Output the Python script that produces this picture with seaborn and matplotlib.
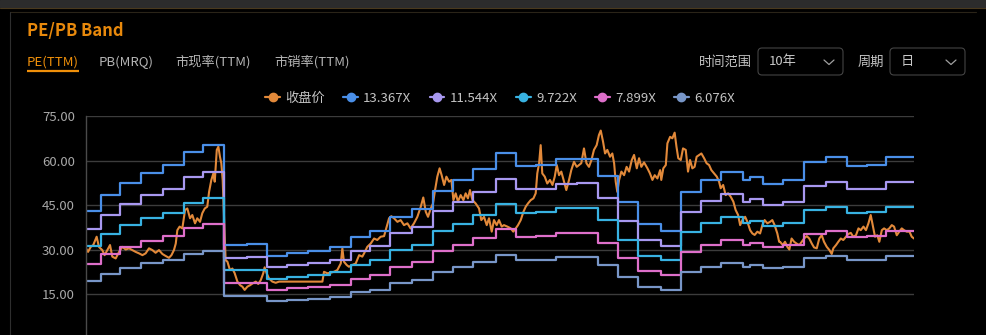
import numpy as np
import pandas as pd
import matplotlib
matplotlib.use("Agg")
import matplotlib.pyplot as plt
import matplotlib.transforms as mtransforms
from matplotlib.patches import FancyBboxPatch, Rectangle
from matplotlib.lines import Line2D
import seaborn as sns

W, H = 986, 335

# ---- data -------------------------------------------------------------
start_date = pd.Timestamp("2014-09-15")
end_day = 3653

# daily close, sampled (days since start_date)
price_day = [
    0, 9, 21, 32, 47, 57, 72, 82, 94, 106, 116, 131, 146, 160, 175, 190, 204, 219,
    234, 249, 263, 278, 293, 307, 322, 337, 352, 366, 377, 388, 396, 403, 413, 425,
    437, 447, 459, 469, 481, 491, 503, 513, 524, 535, 543, 553, 562, 568, 577, 584,
    591, 597, 603,
    616, 624, 635, 646, 656, 668, 680, 690, 700, 712, 724, 735, 749, 760, 771, 782,
    788, 797, 807, 822, 837, 852, 1043, 1050, 1065, 1080, 1094, 1109, 1124, 1131,
    1138, 1150, 1160, 1175, 1190, 1205, 1219,
    1227, 1241, 1256, 1271, 1285, 1300, 1315, 1327, 1337, 1347, 1359, 1374, 1388,
    1403, 1418, 1432, 1447, 1462, 1477, 1488, 1499, 1509, 1521, 1531, 1540, 1550,
    1560, 1569, 1580, 1590, 1602, 1612, 1621, 1631, 1641, 1653, 1665, 1675, 1685,
    1694, 1705, 1719, 1734, 1744, 1756, 1768, 1778, 1790, 1800, 1812, 1822, 1834,
    1844, 1859, 1874, 1885, 1896, 1906, 1918, 1930, 1940, 1950, 1962, 1974, 1984,
    1991, 1999, 2006, 2013, 2024, 2035, 2047, 2058, 2068, 2077, 2087, 2097, 2109,
    2119, 2131, 2141, 2153, 2165, 2175, 2185, 2197, 2208, 2219, 2230, 2241, 2253,
    2263, 2271, 2281, 2290, 2300, 2312, 2322, 2330, 2337, 2344, 2352, 2362, 2374,
    2385, 2396, 2408, 2418, 2430, 2440, 2450,
    2462, 2477, 2488, 2499, 2509, 2521, 2533, 2538, 2547, 2558, 2565, 2577, 2587,
    2597, 2605, 2613, 2624, 2634, 2646, 2656, 2665, 2675, 2685, 2694, 2705, 2715,
    2727, 2738, 2749, 2759, 2771, 2783, 2793, 2800, 2811, 2822, 2833, 2844, 2856,
    2866, 2877, 2886, 2896, 2908, 2918, 2930, 2940, 2950, 2962, 2974, 2984, 2994,
    3006, 3018, 3028, 3038, 3050, 3058,
    3062, 3074, 3084, 3094, 3103, 3113, 3124, 3135, 3147, 3158, 3168, 3180, 3191,
    3202, 3212, 3224, 3235, 3246, 3256, 3268, 3280, 3290, 3297, 3309, 3319, 3330,
    3341, 3353, 3363, 3374, 3385, 3397, 3408, 3418, 3430, 3441, 3452, 3462, 3471,
    3481, 3491, 3500, 3511, 3521, 3533, 3544, 3555, 3565, 3577, 3588, 3599, 3609,
    3621, 3633, 3643, 3653,
]
price_close = [
    30.5, 29.3, 31.0, 31.6, 34.4, 31.0, 29.9, 28.2, 29.9, 31.6, 27.7, 27.1, 29.3, 31.0,
    30.1, 30.5, 29.9, 29.3, 28.8, 28.2, 28.8, 30.5, 29.9, 29.0, 29.9, 28.6, 27.9, 27.3,
    28.2, 29.9, 32.1, 36.6, 37.8, 37.2, 43.4, 43.9, 40.6, 41.7, 38.9, 40.6, 39.4, 42.3,
    43.9, 44.5, 49.5, 53.5, 55.7, 52.9, 63.6, 64.7, 61.3, 59.1, 53.5,
    26.5, 26.0, 23.2, 23.7, 22.1, 19.3, 18.1, 17.6, 16.5, 17.6, 18.1, 18.7, 19.3, 18.5,
    19.8, 22.1, 24.1, 22.1, 20.4, 19.3, 18.9, 19.3, 19.3, 22.6, 22.1, 22.3, 22.6, 23.2,
    25.4, 30.5, 26.0, 24.9, 24.3, 24.9, 25.4, 28.2, 27.7,
    28.8, 31.0, 32.1, 33.8, 33.3, 34.4, 34.6, 37.8, 40.6, 41.3, 40.6, 39.4, 40.0, 38.3,
    38.9, 37.2, 38.9, 41.1, 44.5, 47.6, 42.8, 41.1, 43.9, 45.6, 50.1, 54.6, 57.4, 55.1,
    51.8, 54.6, 52.9, 53.5, 46.7, 49.0, 46.2, 48.4, 46.7, 49.0, 47.3, 50.1, 46.7, 45.6,
    43.9, 40.0, 41.1, 38.3, 40.6, 36.1, 40.0, 38.3, 40.0, 37.8,
    38.3, 37.8, 37.2, 36.1, 37.2, 38.3, 40.0, 42.8, 44.5, 45.6, 46.7, 47.3, 49.0, 55.7,
    59.1, 65.2, 55.7, 54.6, 52.3, 53.5, 51.8, 54.6, 58.5, 55.1, 56.3, 52.9, 50.1, 53.5,
    56.8, 59.6, 57.9, 58.5, 59.1, 64.1, 59.1, 57.9, 60.2, 63.6, 65.2, 68.6, 70.1, 66.4,
    62.4, 63.6, 61.3, 62.4, 59.1, 52.9, 49.5, 53.5, 56.3, 55.1, 57.9, 56.3, 60.2, 61.9,
    57.4, 60.8, 57.9,
    59.4, 57.4, 55.7, 53.5, 55.1, 54.0, 56.8, 53.5, 57.4, 58.5, 65.8, 68.0, 67.5, 69.4,
    64.7, 60.8, 60.2, 64.1, 63.6, 56.3, 60.2, 57.4, 57.9, 61.3, 61.9, 62.4, 60.8, 59.1,
    58.5, 56.8, 55.7, 54.6, 52.9, 50.7, 51.8, 48.4, 49.0, 47.9, 46.2, 43.4, 41.7, 38.3,
    40.0, 41.1, 39.4, 36.6, 35.5, 35.0, 36.1, 35.5, 38.3, 40.0, 38.9, 39.4, 40.0, 38.3,
    35.5, 32.7,
    32.7, 31.6, 32.7, 31.0, 30.1, 33.8, 32.7, 32.1, 31.6, 32.7, 33.8, 34.6, 33.8, 32.1,
    30.8, 30.5, 33.8, 34.9, 32.7, 31.0, 29.9, 28.6, 30.5, 31.6, 32.7, 33.8, 33.3, 34.4,
    35.3, 35.7, 34.4, 34.9, 37.2, 36.6, 37.8, 36.6, 38.9, 41.7, 38.3, 34.4, 34.9, 32.7,
    36.6, 37.2, 36.6, 37.2, 38.3, 37.8, 34.9, 36.1, 37.2, 36.6, 36.1, 36.1, 34.4, 33.8,
]

# trailing EPS, constant from each start day until the next one
eps_start_day = [
    0, 65, 150, 244, 340, 432, 518, 609, 709, 800, 886, 980, 1077, 1168, 1253, 1341,
    1440, 1532, 1621, 1709, 1809, 1896, 1984, 2072, 2166, 2260, 2349, 2437, 2536,
    2624, 2712, 2800, 2900, 2930, 2988, 3077, 3168, 3264, 3356, 3444, 3530,
]
eps_ttm = [
    3.209, 3.621, 3.935, 4.182, 4.376, 4.706, 4.878, 2.372, 2.386, 2.087, 2.155, 2.207,
    2.304, 2.574, 2.716, 3.075, 3.269, 3.733, 3.995, 4.287, 4.668, 4.362, 4.384, 4.519,
    4.534, 4.107, 3.441, 2.888, 2.716, 3.696, 4.010, 4.212, 4.002, 4.070, 3.905, 4.002,
    4.459, 4.578, 4.362, 4.384, 4.578,
]

pe_multiples = [13.367, 11.544, 9.722, 7.899, 6.076]
band_colors = ["#4a8fe8", "#a898f0", "#38b2e2", "#de6fca", "#7896c8"]
price_label = "收盘价"
price_color = "#e2893a"

y_ticks = [0, 15, 30, 45, 60, 75]
tabs = ["PE(TTM)", "PB(MRQ)", "市现率(TTM)", "市销率(TTM)"]
tab_x = [27, 99, 175, 274]

# ---- tables ----------------------------------------------------------------
price_df = pd.DataFrame({
    "date": start_date + pd.to_timedelta(price_day, unit="D"),
    "close": price_close,
})

band_labels = [f"{m:.3f}X" for m in pe_multiples]
step_days = eps_start_day + [end_day]
step_eps = eps_ttm + [eps_ttm[-1]]
band_rows = []
for m, lab in zip(pe_multiples, band_labels):
    for d, e in zip(step_days, step_eps):
        band_rows.append({"date": start_date + pd.Timedelta(days=d),
                          "value": m * e, "band": lab})
band_df = pd.DataFrame(band_rows)

# ---- style -----------------------------------------------------------------
sns.set_theme(style="dark", rc={
    "figure.facecolor": "black",
    "axes.facecolor": "black",
    "savefig.facecolor": "black",
})
plt.rcParams["font.family"] = ["Noto Sans CJK SC", "DejaVu Sans"]

fig = plt.figure(figsize=(W / 100, H / 100), dpi=100)
# pixel coordinates, origin top-left
px = mtransforms.Affine2D().scale(1 / W, -1 / H).translate(0, 1) + fig.transFigure

ax_top, ax_bot = 116, 339
ax = fig.add_axes([86 / W, 1 - ax_bot / H, 828 / W, (ax_bot - ax_top) / H])
ax.set_facecolor("black")

sns.lineplot(data=price_df, x="date", y="close", color=price_color, lw=1.5,
             estimator=None, legend=False, ax=ax)
sns.lineplot(data=band_df, x="date", y="value", hue="band", hue_order=band_labels,
             palette=dict(zip(band_labels, band_colors)), lw=1.6,
             drawstyle="steps-post", estimator=None, legend=False, ax=ax)

ax.set_xlim(start_date, start_date + pd.Timedelta(days=end_day))
ax.set_ylim(0, 75)
ax.set_yticks(y_ticks)
ax.set_yticklabels([f"{v:.2f}" for v in y_ticks])
ax.tick_params(axis="y", length=0, pad=8, labelsize=9.5, labelcolor="#a8a8a8")
ax.tick_params(axis="x", length=0, labelbottom=False)
ax.set_xlabel("")
ax.set_ylabel("")
ax.grid(False)
ax.yaxis.grid(True, color="#3c3c3c", lw=1)
for side in ["top", "right", "bottom"]:
    ax.spines[side].set_visible(False)
ax.spines["left"].set_color("#4a4a4a")
ax.spines["left"].set_linewidth(1)

# ---- legend ------------------------------------------------------------------
handles = [Line2D([], [], color=price_color, lw=1.6, marker="o", markersize=6)]
handles += [Line2D([], [], color=c, lw=1.6, marker="o", markersize=6) for c in band_colors]
fig.legend(handles, [price_label] + band_labels, loc="center",
           bbox_to_anchor=(500 / W, 1 - 98 / H), ncol=6, frameon=False,
           fontsize=9.5, labelcolor="#c4c4c4", handlelength=1.1, handletextpad=0.4,
           columnspacing=1.4, borderpad=0)

# ---- header ------------------------------------------------------------------
fig.patches.append(Rectangle((0, 0), W, 7, transform=px, color="#2c2c2c", zorder=0))
fig.lines.append(Line2D([0, W], [7.5, 7.5], transform=px, color="#4a3a1e", lw=0.8))
fig.lines.append(Line2D([9.5, 976], [11.5, 11.5], transform=px, color="#2a2418", lw=0.8))
fig.lines.append(Line2D([9.5, 9.5], [11.5, H], transform=px, color="#2e2e2e", lw=0.8))

fig.text(27 / W, 1 - 31 / H, "PE/PB Band", fontsize=12, fontweight="bold",
         color="#e8890c", ha="left", va="center")

for i, (t, x) in enumerate(zip(tabs, tab_x)):
    fig.text(x / W, 1 - 62 / H, t, fontsize=9.5, ha="left", va="center",
             color="#f0900a" if i == 0 else "#b4b4b4")
fig.lines.append(Line2D([27, 79], [71, 71], transform=px, color="#f0900a", lw=1.6,
                        solid_capstyle="butt"))

fig.text(752 / W, 1 - 62 / H, "时间范围", fontsize=9.5, ha="right", va="center",
         color="#c4c4c4")
fig.text(884 / W, 1 - 62 / H, "周期", fontsize=9.5, ha="right", va="center",
         color="#c4c4c4")
for (x0, x1, label) in [(758, 843, "10年"), (890, 965, "日")]:
    fig.patches.append(FancyBboxPatch((x0, 48), x1 - x0, 27,
                                      boxstyle="round,pad=0,rounding_size=4",
                                      transform=px, facecolor="black",
                                      edgecolor="#444444", lw=0.8))
    fig.text((x0 + 11) / W, 1 - 62 / H, label, fontsize=9.5, ha="left", va="center",
             color="#c8c8c8")
    cx = x1 - 14
    fig.lines.append(Line2D([cx - 5, cx, cx + 5], [60, 64.5, 60], transform=px,
                            color="#a0a0a0", lw=0.9))

fig.savefig("out.png", dpi=100, facecolor="black")
